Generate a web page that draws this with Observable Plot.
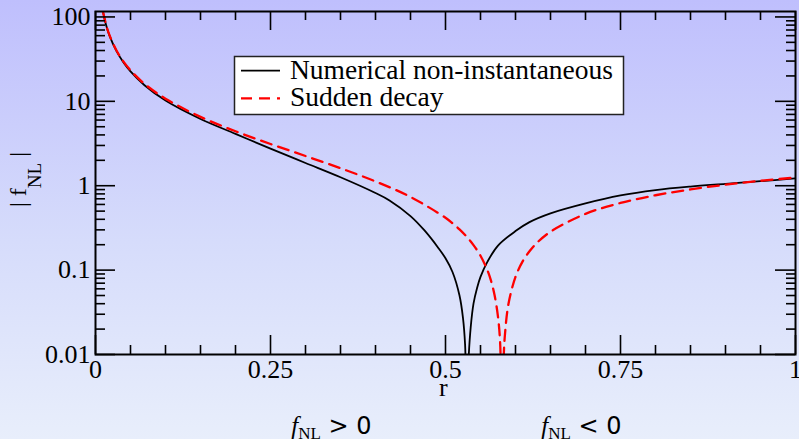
<!DOCTYPE html>
<html><head><meta charset="utf-8">
<script src="https://cdn.jsdelivr.net/npm/d3@7"></script>
<script src="https://cdn.jsdelivr.net/npm/@observablehq/plot@0.6"></script>
<style>
html,body{margin:0;padding:0;}
body{width:799px;height:439px;background:linear-gradient(to bottom,#bfbffd 0%,#d6dcfb 55%,#e8eefb 100%);overflow:hidden;}
</style></head><body><div id="chart"></div>
<script>
// Numerical non-instantaneous (black, solid)
const rBlack = [0.0105,0.015,0.02,0.03,0.04,0.05,0.07,0.1,0.15,0.2,0.25,0.3,0.35,0.4,0.42,0.45,0.47,0.49,0.5,0.51,0.52,0.525,0.528,0.5305,0.533,0.536,0.54,0.545,0.55,0.56,0.575,0.6,0.62,0.65,0.7,0.75,0.8,0.85,0.9,0.95,1];
const fBlack = [117,81,60,39.3,28.9,22.6,15.5,10.2,6.17,4.12,2.75,1.86,1.26,0.82,0.67,0.437,0.295,0.182,0.138,0.095,0.05,0.027,0.013,0.002,0.009,0.021,0.04,0.061,0.083,0.126,0.195,0.29,0.37,0.47,0.617,0.767,0.887,0.977,1.052,1.132,1.22];
// Sudden decay (red, dashed)
const rRed = [0.0105,0.015,0.02,0.03,0.04,0.05,0.07,0.1,0.15,0.2,0.25,0.3,0.35,0.4,0.45,0.5,0.51,0.52,0.53,0.54,0.55,0.56,0.565,0.57,0.575,0.578,0.5806,0.583,0.585,0.59,0.6,0.61,0.62,0.63,0.65,0.7,0.75,0.8,0.85,0.9,0.95,1];
const fRed = [117.4,81.65,60.8,40.0,29.55,23.3,16.1,10.75,6.54,4.42,3.12,2.25,1.61,1.125,0.736,0.417,0.359,0.304,0.25,0.198,0.148,0.099,0.075,0.051,0.028,0.014,0.002,0.009,0.0175,0.040,0.083,0.126,0.167,0.208,0.285,0.464,0.625,0.771,0.904,1.028,1.143,1.25];

const seriesNames = ["Numerical non-instantaneous", "Sudden decay"];
const seriesColors = ["#000000", "#ff0000"];
const seriesDash = [null, "11,7"];

const xMajor = [0, 0.25, 0.5, 0.75, 1];
const xMinor = [0.05,0.1,0.15,0.2,0.3,0.35,0.4,0.45,0.55,0.6,0.65,0.7,0.8,0.85,0.9,0.95];
const yMajor = [0.01, 0.1, 1, 10, 100];
const yMinor = [0.02,0.03,0.04,0.05,0.06,0.07,0.08,0.09,0.2,0.3,0.4,0.5,0.6,0.7,0.8,0.9,2,3,4,5,6,7,8,9,20,30,40,50,60,70,80,90];
const xLabel = ["r"];
const signLabels = ["f_NL > 0", "f_NL < 0"];
const signLabelR = [0.337, 0.694];
const yLabel = ["| f_NL |"];

const black = rBlack.map((r, i) => ({r, f: fBlack[i]}));
const red = rRed.map((r, i) => ({r, f: fRed[i]}));

const W = 799, H = 439, ML = 95, MR = 4, MT = 11, MB = 85;
const FW = W - ML - MR, FH = H - MT - MB;
const MAJ = 19, MIN = 9;
const tk = {stroke: "black", strokeWidth: 1.6};

const plot = Plot.plot({
  width: W, height: H,
  marginLeft: ML, marginRight: MR, marginTop: MT, marginBottom: MB,
  style: {background: "transparent", fontFamily: "'Liberation Serif', 'Times New Roman', serif", fontSize: "26px", color: "black", overflow: "visible"},
  x: {domain: [0, 1]},
  y: {type: "log", domain: [0.01, 116]},
  marks: [
    Plot.line(black, {x: "r", y: "f", stroke: seriesColors[0], strokeWidth: 1.8, curve: "catmull-rom", clip: true}),
    Plot.line(red, {x: "r", y: "f", stroke: seriesColors[1], strokeWidth: 2.3, strokeDasharray: seriesDash[1], curve: "catmull-rom", clip: true}),
    Plot.axisX({anchor: "bottom", ticks: xMajor, tickSize: 0, tickPadding: 5, tickFormat: d => String(d), label: null, fill: "black"}),
    Plot.axisY({anchor: "left", ticks: yMajor, tickSize: 0, tickPadding: 5, tickFormat: d => String(d), label: null, fill: "black"}),
    Plot.text(xLabel, {x: () => 0.497, frameAnchor: "bottom", lineAnchor: "middle", dy: 33, text: d => d, fill: "black", fontSize: 26}),
    Plot.text(signLabels, {x: (d, i) => signLabelR[i], frameAnchor: "bottom", lineAnchor: "middle", dy: 71, text: d => d, fill: "black", fontSize: 25, textAnchor: "middle"}),
    Plot.text(yLabel, {frameAnchor: "left", lineAnchor: "middle", rotate: -90, dx: -77, dy: -3.5, text: d => d, fill: "black", fontSize: 24, textAnchor: "middle"}),
    Plot.frame({stroke: "black", strokeWidth: 2}),
    // inward ticks on all four sides (drawn last, over the frame)
    Plot.ruleX(xMajor, {x: d => d, insetTop: FH - MAJ, ...tk}),
    Plot.ruleX(xMinor, {x: d => d, insetTop: FH - MIN, ...tk}),
    Plot.ruleX(xMajor, {x: d => d, insetBottom: FH - MAJ, ...tk}),
    Plot.ruleX(xMinor, {x: d => d, insetBottom: FH - MIN, ...tk}),
    Plot.ruleY(yMajor, {y: d => d, insetRight: FW - MAJ - 1, ...tk}),
    Plot.ruleY(yMinor, {y: d => d, insetRight: FW - MIN - 1, ...tk}),
    Plot.ruleY(yMajor, {y: d => d, insetLeft: FW - MAJ - 1, ...tk}),
    Plot.ruleY(yMinor, {y: d => d, insetLeft: FW - MIN, ...tk})
  ]
});

document.getElementById("chart").appendChild(plot);
const svg = d3.select(plot);

// subscripts
svg.selectAll("text").each(function() {
  const t = this.textContent;
  if (!t.includes("f_NL")) return;
  const sel = d3.select(this);
  const rotated = t.startsWith("|");
  sel.text(null);
  if (rotated) {
    sel.append("tspan").text("| f");
    sel.append("tspan").attr("font-size", 19).attr("dy", 15).text("NL");
    sel.append("tspan").attr("dy", -15).text(" |");
  } else {
    const post = t.split("f_NL")[1];
    sel.append("tspan").attr("font-style", "italic").text("f");
    sel.append("tspan").attr("font-size", 17).attr("dy", 5).text("NL");
    sel.append("tspan").attr("dy", -5).attr("font-family", "'DejaVu Sans', sans-serif").attr("font-size", 24).text(post);
  }
});

// legend
const lg = svg.append("g").attr("text-anchor", "start");
lg.append("rect").attr("x", 234.5).attr("y", 56.5).attr("width", 389).attr("height", 58)
  .attr("fill", "white").attr("stroke", "#222").attr("stroke-width", 1.5);
const rowY = [70.7, 98.3];
seriesNames.forEach((name, i) => {
  lg.append("line").attr("x1", 241).attr("x2", 280).attr("y1", rowY[i]).attr("y2", rowY[i])
    .attr("stroke", seriesColors[i]).attr("stroke-width", i ? 2.3 : 1.8)
    .attr("stroke-dasharray", seriesDash[i]);
  lg.append("text").attr("x", 290).attr("y", rowY[i] + 7.8).attr("text-anchor", "start")
    .attr("font-family", "'Liberation Serif', serif").attr("font-size", 27.5).attr("fill", "black").text(name);
});
</script></body></html>
